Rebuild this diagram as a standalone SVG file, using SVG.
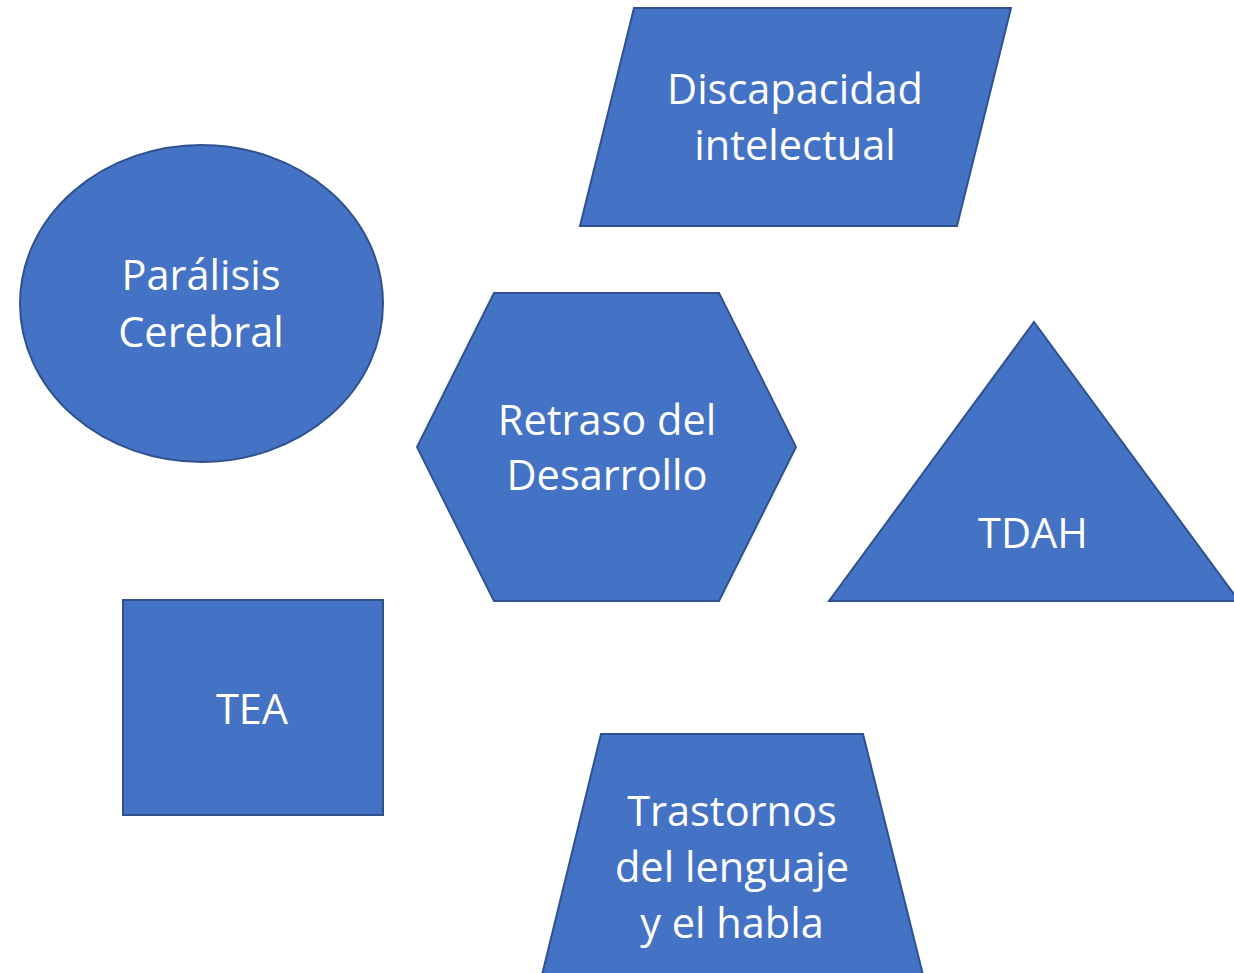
<svg xmlns="http://www.w3.org/2000/svg" width="1234" height="973" viewBox="0 0 1234 973">
<style>
.shape{fill:#4472C4;stroke:#2F528F;stroke-width:2}
.lbl{fill:#FFFFFF;font-family:"Open Sans","Liberation Sans",sans-serif;font-size:41.5px;text-anchor:middle}
</style>
<rect width="1234" height="973" fill="#FFFFFF"/>
<g id="discapacidad">
<polygon class="shape" points="634,8 1011,8 957,226 580,226"/>
<text class="lbl" x="795" y="104">Discapacidad</text>
<text class="lbl" x="795" y="160">intelectual</text>
</g>
<g id="paralisis">
<ellipse class="shape" cx="201.5" cy="303.5" rx="181.5" ry="158.5"/>
<text class="lbl" x="201" y="290">Parálisis</text>
<text class="lbl" x="201" y="347">Cerebral</text>
</g>
<g id="retraso">
<polygon class="shape" points="494,293 719,293 796,447 719,601 494,601 417,447"/>
<text class="lbl" x="607" y="435">Retraso del</text>
<text class="lbl" x="607" y="490">Desarrollo</text>
</g>
<g id="tdah">
<polygon class="shape" points="1034,322 1239,601 829,601"/>
<text class="lbl" x="1033" y="548">TDAH</text>
</g>
<g id="tea">
<rect class="shape" x="123" y="600" width="260" height="215"/>
<text class="lbl" x="252" y="724">TEA</text>
</g>
<g id="trastornos">
<polygon class="shape" points="601,734 863,734 923,975 542,975"/>
<text class="lbl" x="732" y="826">Trastornos</text>
<text class="lbl" x="732" y="882">del lenguaje</text>
<text class="lbl" x="732" y="938">y el habla</text>
</g>
<g id="connectors"></g>
</svg>
